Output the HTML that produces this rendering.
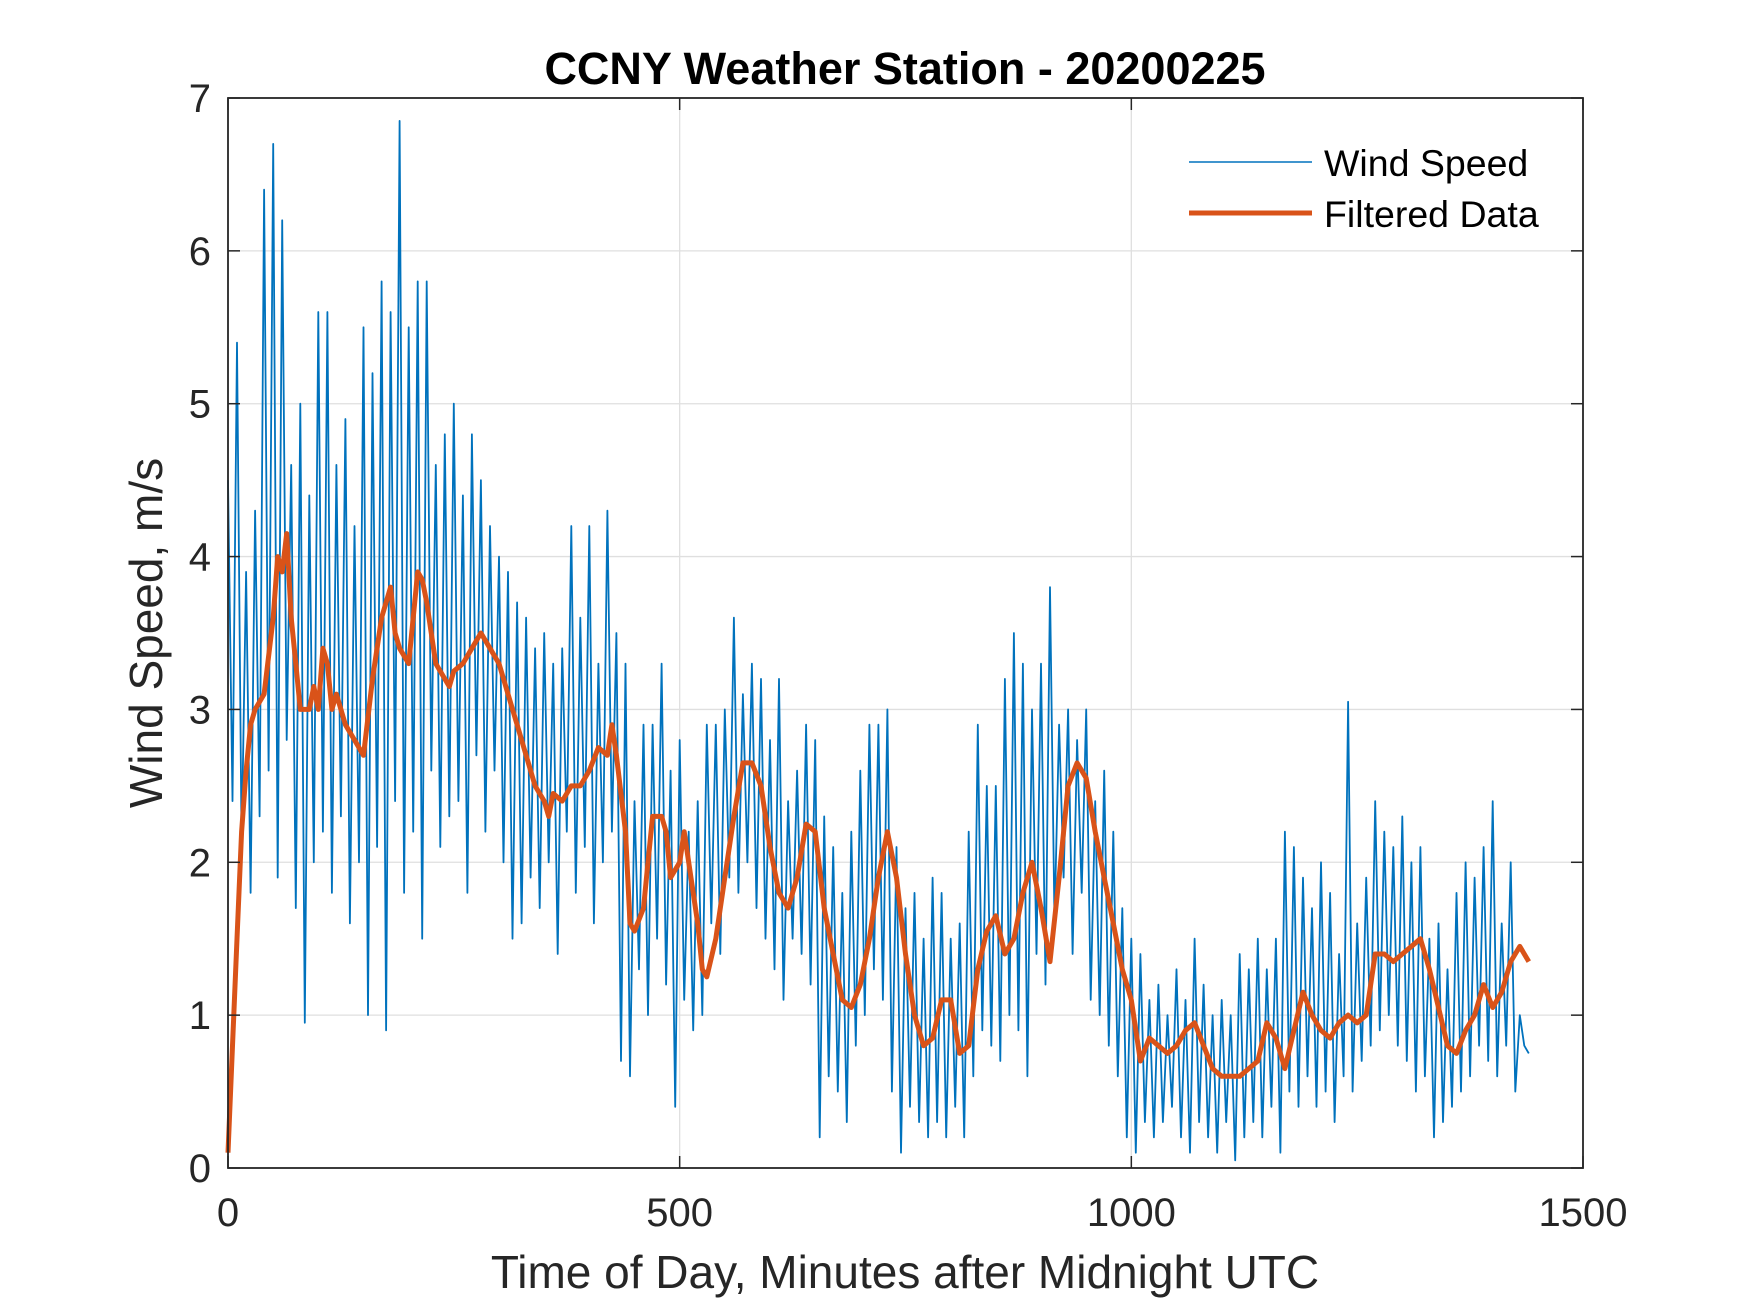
<!DOCTYPE html>
<html><head><meta charset="utf-8"><style>
html,body{margin:0;padding:0;background:#fff}
svg{display:block;font-family:"Liberation Sans",Arial,sans-serif}
</style></head><body>
<svg id="chart" width="1750" height="1313" viewBox="0 0 1750 1313" xmlns="http://www.w3.org/2000/svg">
<rect width="1750" height="1313" fill="#fff"/>
<g id="grid"></g>
<g id="series"></g>
<g id="axes"></g>
<text x="905" y="84" text-anchor="middle" font-size="45" font-weight="bold" fill="#000">CCNY Weather Station - 20200225</text>
<text x="905" y="1288" text-anchor="middle" font-size="46" fill="#262626">Time of Day, Minutes after Midnight UTC</text>
<text transform="translate(162,633) rotate(-90)" text-anchor="middle" font-size="46" fill="#262626">Wind Speed, m/s</text>
<g>
<line x1="1189" y1="162" x2="1312" y2="162" stroke="#0072BD" stroke-width="1.6"/>
<text x="1324" y="176" font-size="37.5" fill="#000">Wind Speed</text>
<line x1="1189" y1="213" x2="1312" y2="213" stroke="#D95319" stroke-width="5"/>
<text x="1324" y="227" font-size="37.5" fill="#000">Filtered Data</text>
</g>
</svg>
<script>
const xTicks=[0,500,1000,1500];
const yTicks=[0,1,2,3,4,5,6,7];
const rawStep=5;
const rawValues=[
4.5,2.4,5.4,2.1,3.9,1.8,4.3,2.3,6.4,2.6,6.7,1.9,
6.2,2.8,4.6,1.7,5.0,0.95,4.4,2.0,5.6,2.2,5.6,1.8,
4.6,2.3,4.9,1.6,4.2,2.0,5.5,1.0,5.2,2.1,5.8,0.9,
5.6,2.4,6.85,1.8,5.5,2.2,5.8,1.5,5.8,2.6,4.6,2.1,
4.8,2.3,5.0,2.4,4.4,1.8,4.8,2.7,4.5,2.2,4.2,2.6,
4.0,2.0,3.9,1.5,3.7,1.6,3.6,1.9,3.4,1.7,3.5,2.0,
3.3,1.4,3.4,2.2,4.2,1.8,3.6,2.1,4.2,1.6,3.3,2.0,
4.3,2.2,3.5,0.7,3.3,0.6,2.4,1.3,2.9,1.0,2.9,1.5,
3.3,1.2,2.6,0.4,2.8,1.1,2.2,0.9,2.4,1.0,2.9,1.6,
2.9,1.4,3.0,1.9,3.6,1.8,3.1,2.0,3.3,1.7,3.2,1.5,
2.8,1.3,3.2,1.1,2.4,1.5,2.6,1.4,2.9,1.2,2.8,0.2,
2.3,0.6,2.1,0.5,1.8,0.3,2.2,0.8,2.6,1.0,2.9,1.3,
2.9,1.1,3.0,0.5,2.1,0.1,1.7,0.4,1.8,0.3,1.5,0.2,
1.9,0.3,1.8,0.2,1.5,0.4,1.6,0.2,2.2,0.6,2.9,0.9,
2.5,0.8,2.5,0.7,3.2,1.0,3.5,0.9,3.3,0.6,3.0,1.4,
3.3,1.2,3.8,1.6,2.9,1.9,3.0,1.4,2.8,1.8,3.0,1.1,
2.4,1.0,2.6,0.8,2.2,0.6,1.7,0.2,1.5,0.1,1.4,0.3,
1.1,0.2,1.2,0.3,1.0,0.4,1.3,0.2,1.1,0.1,1.5,0.3,
1.2,0.2,1.0,0.1,1.1,0.3,1.0,0.05,1.4,0.2,1.3,0.3,
1.5,0.2,1.3,0.4,1.5,0.1,2.2,0.5,2.1,0.4,1.9,0.6,
1.7,0.4,2.0,0.5,1.8,0.3,1.4,0.6,3.05,0.5,1.6,0.7,
1.9,0.8,2.4,0.9,2.2,1.0,2.1,0.8,2.3,0.7,2.0,0.5,
2.1,0.6,1.5,0.2,1.6,0.3,1.3,0.4,1.8,0.5,2.0,0.6,
1.9,0.8,2.1,0.7,2.4,0.6,1.6,0.8,2.0,0.5,1.0,0.8,
0.75];
const filtTimes=[0,5,10,15,20,25,30,40,50,55,60,65,70,75,80,90,95,100,105,110,115,120,130,140,150,160,170,180,185,190,200,205,210,215,220,230,240,245,250,260,270,280,290,300,310,320,330,340,350,355,360,370,380,390,400,410,420,425,430,440,445,450,460,465,470,480,485,490,500,505,510,520,525,530,540,550,560,570,580,590,600,610,620,630,640,650,660,670,680,690,700,710,720,730,740,750,760,770,780,790,800,810,820,830,840,850,860,870,880,890,900,910,920,930,940,950,960,970,980,990,1000,1010,1020,1030,1040,1050,1060,1070,1080,1090,1100,1110,1120,1130,1140,1150,1160,1170,1180,1190,1200,1210,1220,1230,1240,1250,1260,1270,1280,1290,1300,1310,1320,1330,1340,1350,1360,1370,1380,1390,1400,1410,1420,1430,1440];
const filtValues=[0.1,0.8,1.5,2.2,2.6,2.9,3.0,3.1,3.6,4.0,3.9,4.15,3.6,3.3,3.0,3.0,3.15,3.0,3.4,3.3,3.0,3.1,2.9,2.8,2.7,3.2,3.6,3.8,3.5,3.4,3.3,3.6,3.9,3.85,3.7,3.3,3.2,3.15,3.25,3.3,3.4,3.5,3.4,3.3,3.1,2.9,2.7,2.5,2.4,2.3,2.45,2.4,2.5,2.5,2.6,2.75,2.7,2.9,2.7,2.2,1.6,1.55,1.7,2.0,2.3,2.3,2.2,1.9,2.0,2.2,2.0,1.6,1.3,1.25,1.5,1.9,2.3,2.65,2.65,2.5,2.1,1.8,1.7,1.9,2.25,2.2,1.7,1.4,1.1,1.05,1.2,1.5,1.9,2.2,1.9,1.4,1.0,0.8,0.85,1.1,1.1,0.75,0.8,1.3,1.55,1.65,1.4,1.5,1.8,2.0,1.7,1.35,1.9,2.5,2.65,2.55,2.2,1.9,1.6,1.3,1.1,0.7,0.85,0.8,0.75,0.8,0.9,0.95,0.8,0.65,0.6,0.6,0.6,0.65,0.7,0.95,0.85,0.65,0.9,1.15,1.0,0.9,0.85,0.95,1.0,0.95,1.0,1.4,1.4,1.35,1.4,1.45,1.5,1.3,1.05,0.8,0.75,0.9,1.0,1.2,1.05,1.15,1.35,1.45,1.35];

const L=228,R=1583,T=98,B=1168;
const xMin=0,xMax=1500,yMin=0,yMax=7;
const sx=v=>L+(v-xMin)/(xMax-xMin)*(R-L);
const sy=v=>B-(v-yMin)/(yMax-yMin)*(B-T);
const NS='http://www.w3.org/2000/svg';
function mk(tag,attrs,parent){const e=document.createElementNS(NS,tag);for(const k in attrs)e.setAttribute(k,attrs[k]);parent.appendChild(e);return e;}
const grid=document.getElementById('grid'),axes=document.getElementById('axes'),series=document.getElementById('series');
xTicks.forEach(t=>{
  const g=mk('line',{x1:sx(t),x2:sx(t),y1:T,y2:B,stroke:'#dfdfdf','stroke-width':1.3},grid);
  
  
  const a=mk('line',{x1:sx(t),x2:sx(t),y1:B,y2:B-12,stroke:'#262626','stroke-width':1.5},axes);
  
  
  const b=mk('line',{x1:sx(t),x2:sx(t),y1:T,y2:T+12,stroke:'#262626','stroke-width':1.5},axes);
  
  
  const tx=mk('text',{x:sx(t),y:B+58,'text-anchor':'middle','font-size':40,fill:'#262626'},axes);
  tx.textContent=t;
  
  
});
yTicks.forEach(t=>{
  const g=mk('line',{x1:L,x2:R,y1:sy(t),y2:sy(t),stroke:'#dfdfdf','stroke-width':1.3},grid);
  
  
  const a=mk('line',{x1:L,x2:L+12,y1:sy(t),y2:sy(t),stroke:'#262626','stroke-width':1.5},axes);
  
  
  const b=mk('line',{x1:R,x2:R-12,y1:sy(t),y2:sy(t),stroke:'#262626','stroke-width':1.5},axes);
  
  
  const tx=mk('text',{x:L-17,y:sy(t)+14,'text-anchor':'end','font-size':40,fill:'#262626'},axes);
  tx.textContent=t;
  
  
});
const box=mk('rect',{x:L,y:T,width:R-L,height:B-T,fill:'none',stroke:'#262626','stroke-width':1.8},axes);


const rawPts=rawValues.map((v,i)=>sx(i*rawStep).toFixed(1)+','+sy(v).toFixed(1)).join(' ');
const rl=mk('polyline',{points:rawPts,fill:'none',stroke:'#0072BD','stroke-width':1.8,'stroke-linejoin':'round'},series);


const fPts=filtValues.map((v,i)=>sx(filtTimes[i]).toFixed(1)+','+sy(v).toFixed(1)).join(' ');
const fl=mk('polyline',{points:fPts,fill:'none',stroke:'#D95319','stroke-width':5,'stroke-linejoin':'round'},series);


</script>
</body></html>
